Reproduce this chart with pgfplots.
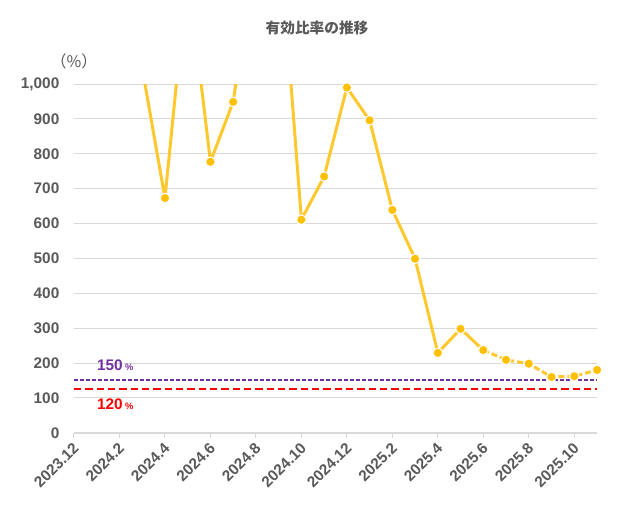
\documentclass[border=0pt]{standalone}
\usepackage{fontspec}
\setmainfont{Liberation Sans}
\newfontfamily\jp{Noto Sans CJK JP}
\usepackage{pgfplots}
\pgfplotsset{compat=1.18}
\definecolor{txt}{HTML}{595959}
\definecolor{grd}{HTML}{D9D9D9}
\definecolor{gold}{HTML}{FFC000}
\definecolor{goldl}{HTML}{FFC82E}
\definecolor{purp}{HTML}{7030A0}
\definecolor{redl}{HTML}{FF0000}
\begin{document}
\begin{tikzpicture}
\path[use as bounding box] (0,0) rectangle (472.5pt,383.25pt);
\node[text=txt, font=\jp\bfseries\fontsize{11}{13}\selectfont] at (237.75pt,362.25pt) {有効比率の推移};
\node[text=txt, font=\jp\fontsize{12}{14}\selectfont] at (55.5pt,337.5pt) {（\%）};
\begin{axis}[
  at={(55.5pt,58.7pt)}, anchor=south west,
  scale only axis, width=392.25pt, height=261.5pt,
  xmin=0, xmax=23, ymin=0, ymax=1000,
  axis x line*=bottom, axis y line*=left,
  separate axis lines,
  x axis line style={draw=grd, line width=1.5pt, -},
  y axis line style={draw=none, -},
  xtick={0,2,...,22},
  xticklabels={2023.12,2024.2,2024.4,2024.6,2024.8,2024.10,2024.12,2025.2,2025.4,2025.6,2025.8,2025.10},
  ytick={0,100,...,1000},
  ymajorgrids, grid style={draw=grd, line width=0.75pt},
  xtick style={draw=grd, line width=0.75pt}, major tick length=4pt, tick align=outside,
  ytick style={draw=none},
  tick label style={text=txt, font=\bfseries\fontsize{11.5}{13}\selectfont},
  xticklabel style={rotate=45, anchor=north east, inner sep=1pt, xshift=-2pt},
  yticklabel style={anchor=east, xshift=-3.5pt},
  /pgf/number format/assume math mode=true,
  /pgf/number format/1000 sep={,},
]
\addplot[goldl, line width=2.25pt, line join=round] coordinates {(3,1045)(4,673)(5,1325)(6,777)(7,949)(8,1400)(9,1460)(10,611)(11,735)(12,990)(13,896)(14,639)(15,499)(16,229)(17,298)(18,237)};
\addplot[goldl, line width=2.25pt, line join=round, dash pattern=on 4.5pt off 2.25pt] coordinates {(18,237)(19,209)(20,198)(21,160)(22,162)(23,180)};
\addplot[purp, line width=1.5pt, dash pattern=on 3pt off 1.5pt] coordinates {(0,150)(23,150)};
\addplot[redl, line width=1.5pt, dash pattern=on 5.5pt off 3pt] coordinates {(0,125)(23,125)};
\addplot[only marks, mark=*, mark size=3.6pt, mark options={fill=gold, draw=white, line width=0.8pt}] coordinates {(4,673)(6,777)(7,949)(10,611)(11,735)(12,990)(13,896)(14,639)(15,499)(16,229)(17,298)(18,237)(19,209)(20,198)(21,160)(22,162)(23,180)};
\node[anchor=west, text=purp, font=\bfseries\fontsize{11.5}{13}\selectfont, inner sep=0pt] at (axis cs:1.0,194) {150\,{\fontsize{7}{8}\selectfont\%}};
\node[anchor=west, text=redl, font=\bfseries\fontsize{11.5}{13}\selectfont, inner sep=0pt] at (axis cs:1.0,82) {120\,{\fontsize{7}{8}\selectfont\%}};
\end{axis}
\end{tikzpicture}
\end{document}
